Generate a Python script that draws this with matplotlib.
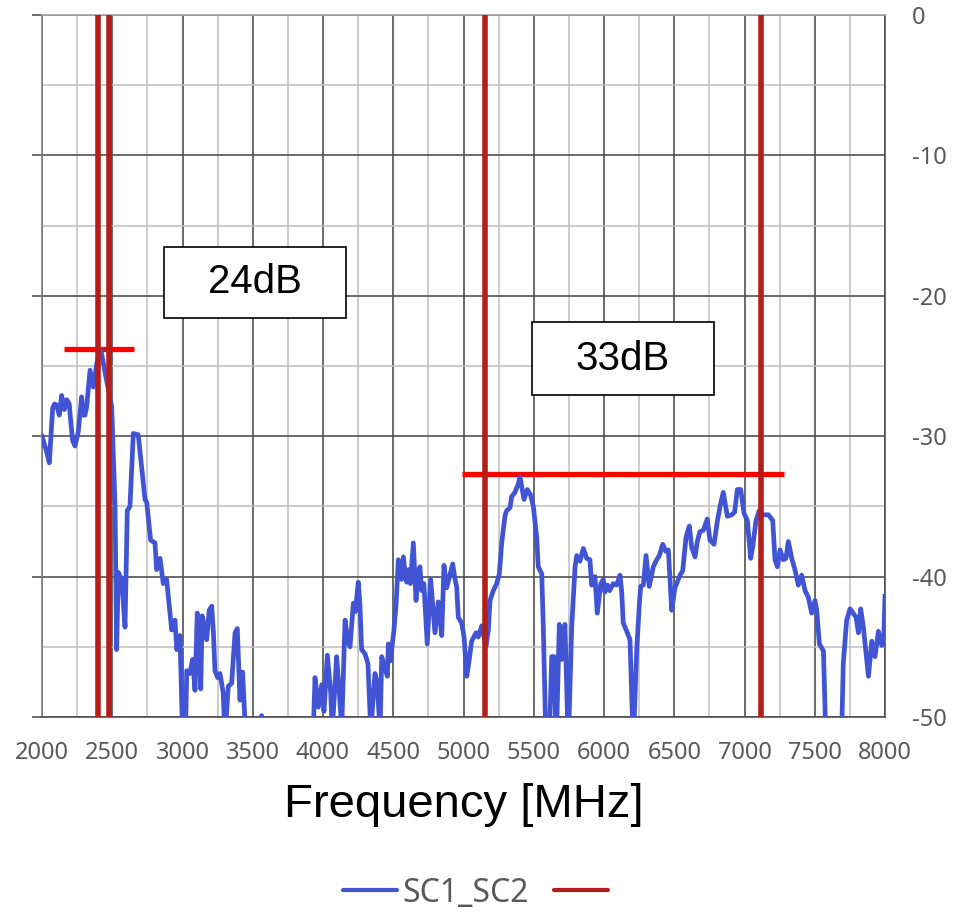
import matplotlib
matplotlib.use('Agg')
from matplotlib import pyplot as plt
from matplotlib.lines import Line2D
from matplotlib.patches import Rectangle
from matplotlib.ticker import MultipleLocator

plt.rcParams['axes.unicode_minus'] = False

# SC1_SC2 isolation trace (values < -50 fall off the axis)
freq_mhz = [
    2000, 2021, 2033, 2052, 2076, 2090, 2105, 2123, 2140, 2159, 2176, 2194, 2205,
    2218, 2235, 2258, 2282, 2294, 2306, 2318, 2342, 2365, 2390, 2420, 2440, 2496,
    2520, 2531, 2543, 2567, 2591, 2607, 2626, 2650, 2685, 2709, 2733, 2745, 2773,
    2804, 2816, 2840, 2863, 2887, 2923, 2947, 2959, 2982, 3001, 3020, 3030, 3053,
    3072, 3089, 3105, 3118, 3130, 3140, 3155, 3172, 3190, 3208, 3220, 3231, 3250,
    3267, 3290, 3302, 3326, 3350, 3374, 3390, 3409, 3428, 3452, 3500, 3545, 3563,
    3580, 3700, 3900, 3931, 3943, 3967, 3991, 4007, 4031, 4055, 4066, 4097, 4115,
    4133, 4157, 4175, 4192, 4216, 4230, 4251, 4263, 4275, 4299, 4320, 4340, 4370,
    4385, 4406, 4418, 4440, 4458, 4465, 4480, 4505, 4520, 4536, 4548, 4560, 4572,
    4585, 4596, 4610, 4622, 4643, 4662, 4675, 4690, 4702, 4718, 4742, 4766, 4797,
    4821, 4845, 4861, 4880, 4900, 4923, 4940, 4951, 4963, 4987, 5004, 5023, 5041,
    5058, 5089, 5105, 5130, 5160, 5177, 5189, 5212, 5236, 5255, 5272, 5295, 5307,
    5331, 5343, 5366, 5390, 5402, 5415, 5431, 5454, 5478, 5497, 5521, 5532, 5557,
    5568, 5587, 5610, 5628, 5645, 5660, 5682, 5699, 5722, 5746, 5770, 5794, 5806,
    5829, 5853, 5877, 5900, 5912, 5936, 5952, 5977, 5995, 6007, 6025, 6040, 6066,
    6090, 6114, 6126, 6137, 6166, 6185, 6208, 6233, 6252, 6261, 6280, 6299, 6322,
    6351, 6375, 6394, 6418, 6440, 6458, 6482, 6505, 6541, 6560, 6584, 6607, 6624,
    6648, 6664, 6683, 6707, 6735, 6754, 6783, 6806, 6826, 6849, 6878, 6909, 6930,
    6949, 6973, 6997, 7020, 7044, 7058, 7082, 7105, 7134, 7170, 7201, 7217, 7234,
    7253, 7276, 7295, 7312, 7336, 7359, 7383, 7407, 7431, 7455, 7478, 7502, 7515,
    7533, 7562, 7580, 7650, 7692, 7703, 7727, 7751, 7794, 7811, 7827, 7846, 7882,
    7906, 7929, 7953, 7977, 7990, 8000,
]
sc1_sc2_db = [
    -30.0, -30.7, -31.1, -31.9, -28.0, -27.7, -27.8, -28.5, -27.1, -28.1, -27.4, -27.7, -29.0,
    -30.3, -30.7, -29.7, -27.2, -28.5, -28.5, -27.9, -25.3, -26.5, -24.8, -23.9, -25.0, -27.9,
    -35.0, -45.2, -39.7, -40.2, -43.6, -35.3, -35.0, -29.8, -29.9, -32.2, -34.5, -34.7, -37.4,
    -37.6, -39.5, -38.7, -40.5, -40.2, -43.8, -43.1, -45.2, -44.2, -51.5, -52.0, -46.7, -46.9,
    -45.9, -48.1, -42.6, -45.0, -48.0, -42.8, -43.5, -44.5, -42.4, -42.1, -44.0, -46.7, -47.2,
    -46.9, -48.3, -51.5, -47.8, -47.6, -44.0, -43.7, -48.8, -46.8, -52.0, -55.0, -53.0, -49.9,
    -53.0, -56.0, -54.0, -51.0, -47.2, -49.3, -47.7, -49.6, -45.6, -48.3, -51.0, -45.7, -48.1,
    -50.8, -43.1, -44.5, -45.0, -41.9, -42.5, -40.4, -42.0, -45.2, -45.5, -46.2, -51.0, -46.9,
    -47.5, -51.0, -45.7, -46.5, -47.1, -44.8, -46.0, -43.8, -42.0, -38.8, -39.5, -40.2, -38.6,
    -39.8, -40.4, -39.5, -40.5, -37.6, -41.7, -40.0, -39.3, -41.0, -40.5, -44.8, -40.2, -44.0,
    -41.8, -44.2, -39.2, -40.8, -40.0, -39.1, -40.2, -40.7, -42.9, -43.3, -44.3, -47.1, -45.9,
    -44.6, -44.0, -44.3, -43.5, -45.0, -43.8, -41.7, -41.0, -40.5, -39.8, -37.6, -35.7, -35.3,
    -35.1, -34.3, -34.0, -33.4, -32.9, -33.6, -34.5, -33.8, -34.2, -35.0, -37.2, -39.3, -39.8,
    -43.6, -52.0, -52.0, -45.7, -45.7, -52.0, -43.4, -45.9, -43.4, -52.0, -43.6, -39.3, -38.5,
    -38.9, -38.0, -38.7, -38.8, -40.6, -40.0, -42.6, -40.5, -40.2, -41.1, -40.6, -41.0, -40.5,
    -40.6, -39.9, -41.1, -43.3, -44.0, -44.5, -52.0, -45.2, -41.9, -40.7, -40.6, -38.5, -40.7,
    -39.3, -38.8, -38.5, -37.7, -38.2, -38.1, -42.4, -40.8, -39.9, -39.6, -37.2, -36.4, -37.9,
    -38.6, -37.5, -36.8, -36.7, -35.9, -37.4, -37.7, -36.1, -35.0, -34.0, -35.7, -35.6, -35.4,
    -33.8, -33.8, -35.5, -36.0, -38.7, -37.9, -36.0, -35.3, -35.6, -35.6, -36.0, -38.8, -39.3,
    -38.1, -38.8, -38.7, -37.5, -38.7, -39.5, -40.6, -39.9, -41.0, -41.5, -42.6, -41.7, -42.5,
    -44.8, -45.3, -52.0, -55.0, -51.0, -46.2, -43.1, -42.3, -42.9, -44.0, -42.3, -43.6, -47.1,
    -44.6, -45.7, -43.9, -44.9, -44.7, -41.4,
]

# band edges (vertical markers) and the two worst-case levels
band_edges_mhz = [2400, 2480, 5150, 7120]
level_2g4_db = -23.8
level_2g4_span = [2160, 2655]
level_5g_db = -32.7
level_5g_span = [4990, 7280]

x_ticks = [2000, 2500, 3000, 3500, 4000, 4500, 5000, 5500, 6000, 6500, 7000, 7500, 8000]
y_ticks = [0, -10, -20, -30, -40, -50]

BLUE = '#4054D4'
DARK_RED = '#B41E1A'
RED = '#FF0000'
TICK_GRAY = '#595959'

fig = plt.figure(figsize=(9.55, 9.13), dpi=100)
ax = fig.add_axes([42 / 955, 1 - 717 / 913, (885 - 42) / 955, (717 - 15) / 913])

ax.plot(level_2g4_span, [level_2g4_db] * 2, color=RED, lw=3.8, solid_capstyle='butt', zorder=3)
ax.plot(level_5g_span, [level_5g_db] * 2, color=RED, lw=3.8, solid_capstyle='butt', zorder=3)
ax.plot(freq_mhz, sc1_sc2_db, color=BLUE, lw=3.4, solid_joinstyle='round', zorder=4)
for f in band_edges_mhz:
    ax.axvline(f, color=DARK_RED, lw=4.0, zorder=5)

ax.set_xlim(2000, 8000)
ax.set_ylim(-50, 0)
ax.set_xticks(x_ticks)
ax.set_yticks(y_ticks)
ax.xaxis.set_minor_locator(MultipleLocator(250))
ax.yaxis.set_minor_locator(MultipleLocator(5))

ax.set_axisbelow(True)
ax.grid(which='major', color='#505050', lw=1.2)
ax.grid(which='minor', color='#BFBFBF', lw=1.1)

ax.spines['top'].set_color('#A6A6A6')
ax.spines['left'].set_color('#808080')
ax.spines['bottom'].set_color('#505050')
ax.spines['right'].set_color('#505050')
for s in ax.spines.values():
    s.set_linewidth(1.2)

ax.tick_params(axis='x', which='both', length=0, pad=17, labelsize=17, labelcolor=TICK_GRAY)
ax.tick_params(axis='y', which='major', left=True, right=False, labelleft=False,
               labelright=True, length=7.2, width=1.2, color='#505050', pad=12,
               labelsize=17, labelcolor=TICK_GRAY)
ax.tick_params(axis='y', which='minor', length=0)
for lab in ax.get_xticklabels() + ax.get_yticklabels():
    lab.set_family('Noto Sans')

ax.set_xlabel('Frequency [MHz]', fontsize=34, family='Liberation Sans', color='black')
ax.xaxis.label.set_va('center')
ax.xaxis.set_label_coords(0.5, -0.125)

# annotation boxes
for (x0, x1, y0, y1), txt in [((2870, 4165, -21.6, -16.5), '24dB'),
                              ((5488, 6783, -27.1, -21.9), '33dB')]:
    ax.add_patch(Rectangle((x0, y0), x1 - x0, y1 - y0, facecolor='white',
                           edgecolor='black', lw=1.2, zorder=6))
    ax.text((x0 + x1) / 2, (y0 + y1) / 2, txt, ha='center', va='center',
            fontsize=29, family='Liberation Sans', zorder=7)

handles = [Line2D([], [], color=BLUE, lw=3.0, solid_capstyle='round'),
           Line2D([], [], color=DARK_RED, lw=3.0, solid_capstyle='round')]
leg = fig.legend(handles, ['SC1_SC2', ''], ncol=2, loc='center',
                 bbox_to_anchor=(478 / 955, 1 - 893 / 913), frameon=False,
                 prop={'family': 'Noto Sans', 'size': 23}, handlelength=1.7,
                 handletextpad=0.15, columnspacing=0.8)
for t in leg.get_texts():
    t.set_color(TICK_GRAY)

fig.savefig('out.png', dpi=100)
